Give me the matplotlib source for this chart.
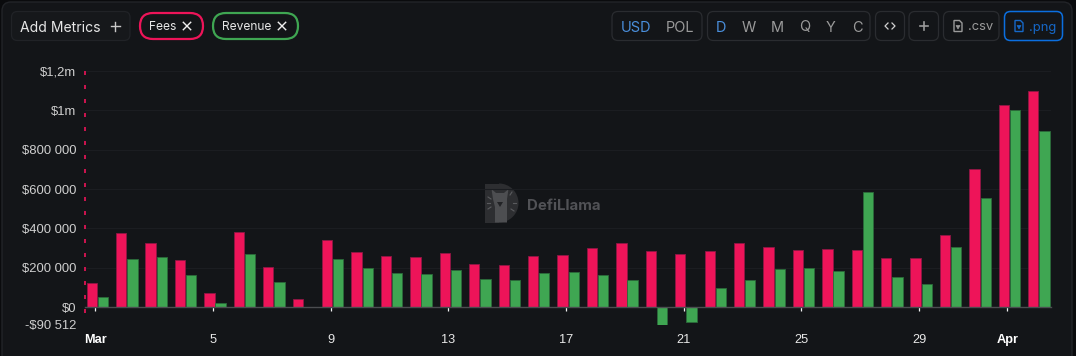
import matplotlib
matplotlib.use("Agg")
import matplotlib.pyplot as plt
from matplotlib.patches import FancyBboxPatch, Wedge, Rectangle, Polygon, PathPatch
from matplotlib.path import Path
import numpy as np

# one entry per day, Mar 1 to Apr 2
fees = [122000, 376000, 328000, 241000, 71000, 383000, 202000, 44000, 342000, 279000,
        262000, 255000, 277000, 221000, 213000, 259000, 267000, 303000, 325000, 287000,
        270000, 284000, 325000, 308000, 291000, 298000, 293000, 250000, 250000, 367000,
        701000, 1029000, 1099000]
revenue = [54000, 245000, 257000, 162000, 20000, 272000, 129000, 2000, 245000, 197000,
           173000, 170000, 187000, 141000, 136000, 173000, 180000, 162000, 136000, -90512,
           -76500, 99000, 138000, 194000, 201000, 182000, 583000, 151000, 117000, 308000,
           554000, 1000000, 893000]
x_ticks = [0, 4, 8, 12, 16, 20, 24, 28, 31]
x_labels = ["Mar", "5", "9", "13", "17", "21", "25", "29", "Apr"]
y_ticks = [-90512, 0, 200000, 400000, 600000, 800000, 1000000, 1200000]
y_labels = ["-$90 512", "$0", "$200 000", "$400 000", "$600 000", "$800 000", "$1m", "$1,2m"]

W, H = 1076, 356
BG = "#131518"
RED = "#ee1459"
GREEN = "#3fa652"
BORDER = "#2a2c30"
SANS = ["Inter", "DejaVu Sans"]

fig = plt.figure(figsize=(W / 100, H / 100), dpi=100, facecolor="#0a0b0d")

# pixel canvas for the panel and the toolbar
ui = fig.add_axes([0, 0, 1, 1])
ui.set_xlim(0, W)
ui.set_ylim(H, 0)
ui.axis("off")


def box(x0, y0, x1, y1, r, edge=BORDER, lw=0.9, face="none"):
    ui.add_patch(FancyBboxPatch((x0 + r, y0 + r), x1 - x0 - 2 * r, y1 - y0 - 2 * r,
                                boxstyle=f"round,pad={r},rounding_size={r}",
                                fc=face, ec=edge, lw=lw))


def label(x, y, s, color="#e6e6e6", px=12, ha="center", **kw):
    ui.text(x, y, s, color=color, fontsize=px * 0.72, ha=ha, va="center_baseline",
            family=SANS, **kw)


def plus(x, y, r, color, lw=1.0):
    ui.plot([x - r, x + r], [y, y], color=color, lw=lw)
    ui.plot([x, x], [y - r, y + r], color=color, lw=lw)


def cross(x, y, r, color, lw=1.0):
    ui.plot([x - r, x + r], [y - r, y + r], color=color, lw=lw)
    ui.plot([x - r, x + r], [y + r, y - r], color=color, lw=lw)


def file_icon(x, y, color):
    ui.add_patch(Polygon([(x - 4, y - 5.5), (x + 1.5, y - 5.5), (x + 4, y - 3), (x + 4, y + 5.5),
                          (x - 4, y + 5.5)], closed=True, fc="none", ec=color, lw=1.0))
    ui.add_patch(Polygon([(x - 2, y - 0.5), (x + 2, y - 0.5), (x, y + 3)], closed=True, fc=color, ec=color, lw=0.5))


box(2, 2, 1072, 380, 9, edge="#222428", lw=1.0, face=BG)

box(11.5, 11.5, 130, 40.5, 6, edge="#212327", face="#16181b")
label(20, 26, "Add Metrics", px=14, ha="left")
plus(115, 26, 4.5, "#c9c9c9")

box(140, 13, 203, 39, 13, edge=RED, lw=1.6)
label(149.5, 26, "Fees", ha="left")
cross(187, 26, 3.7, "#f0f0f0")
box(213, 13, 298, 39, 13, edge=GREEN, lw=1.6)
label(222, 26, "Revenue", ha="left")
cross(282, 26, 3.7, "#f0f0f0")

box(612, 11.5, 702, 40.5, 6)
label(636, 26, "USD", color="#4a8fdc", px=14.5)
label(680, 26, "POL", color="#9a9a9a", px=14.5)
box(707.5, 11.5, 870, 40.5, 6)
for x, s, c in zip([721, 749, 777.5, 805, 831, 857], "DWMQYC", ["#4a8fdc"] + ["#9a9a9a"] * 5):
    label(x, 26, s, color=c, px=14.5)
box(875.5, 11.5, 904.5, 40.5, 6)
ui.plot([888, 885, 888], [23, 26, 29], color="#d0d0d0", lw=0.9)
ui.plot([892, 895, 892], [23, 26, 29], color="#d0d0d0", lw=0.9)
box(909, 11.5, 938.5, 40.5, 6)
plus(924, 26, 4, "#9a9a9a", lw=1.2)
box(943.5, 11.5, 999, 40.5, 6)
file_icon(958, 26, "#9a9a9a")
label(968, 26, ".csv", color="#9a9a9a", px=13, ha="left")
box(1004.5, 11.5, 1062.5, 40.5, 6, edge="#0b6fe0", lw=1.1)
file_icon(1019, 26, "#1668c8")
label(1029, 26, ".png", color="#1668c8", px=13, ha="left")

# watermark
ui.add_patch(Rectangle((484.5, 183.5), 14, 39, fc="#2d2e31", ec="none"))
ui.add_patch(Wedge((499, 203), 19.5, -90, 90, fc="#2d2e31", ec="none"))
ui.add_patch(PathPatch(Path([(495, 222.5), (495, 207), (493, 199), (491.5, 189), (496, 193), (504, 193),
                             (508.5, 189), (507, 199), (507, 222.5), (495, 222.5)]),
                       fc="#4d4e51", ec="none"))
ui.add_patch(Polygon([(497, 202), (503, 202), (500, 207)], closed=True, fc="#222326", ec="none"))
for a, b in [((488, 197), (491, 199)), ((488, 209), (491, 207)), ((512, 192), (510, 195)),
             ((516, 203), (513, 203)), ((511, 209), (514, 211)), ((490, 203), (487, 203))]:
    ui.plot(*zip(a, b), color="#5a5b5e", lw=0.8)
label(527, 204, "DefiLlama", color="#515256", px=15, ha="left", fontweight="bold")

# chart area, x in days from Mar 1
left, right, top, bottom = 84.5, 1051, 71, 325
ax = fig.add_axes([left / W, 1 - bottom / H, (right - left) / W, (bottom - top) / H])
ax.patch.set_alpha(0)
days = np.arange(len(fees))
ax.bar(days - 0.12, fees, width=0.35, color=RED, edgecolor="#8f1744", linewidth=0.6, zorder=3)
ax.bar(days + 0.26, revenue, width=0.35, color=GREEN, edgecolor="#2b6b3a", linewidth=0.6, zorder=3)
ax.set_xlim(-0.367, 32.48)
ax.set_ylim(-90512, 1200000)

for s in ["top", "left", "right"]:
    ax.spines[s].set_visible(False)
ax.spines["bottom"].set_position(("data", 0))
ax.spines["bottom"].set_color("#4b4d50")
ax.spines["bottom"].set_linewidth(1.0)
ax.spines["bottom"].set_zorder(4)

ax.set_yticks(y_ticks)
ax.set_yticklabels(y_labels, family=["Liberation Sans"], fontsize=9.4)
ax.set_xticks(x_ticks)
ax.set_xticklabels(x_labels, family=["Liberation Sans"], fontsize=9.2)
ax.tick_params(axis="y", length=0, pad=6, labelcolor="#cfcfcf")
ax.tick_params(axis="x", length=3, width=0.9, color="#f2f2f2", pad=16, labelcolor="#e8e8e8")
for t in ax.get_xticklabels():
    if t.get_text() in ("Mar", "Apr"):
        t.set_fontweight("bold")
        t.set_color("#ffffff")
ax.grid(axis="y", color="#1b1d21", lw=0.8, zorder=0)
ax.set_axisbelow(True)
ax.plot([-0.36, -0.36], [1200000, -40000], color=RED, lw=1.2, ls=(0, (2.4, 6)), clip_on=False, zorder=5)

fig.savefig("out.png", dpi=100, facecolor=fig.get_facecolor())
